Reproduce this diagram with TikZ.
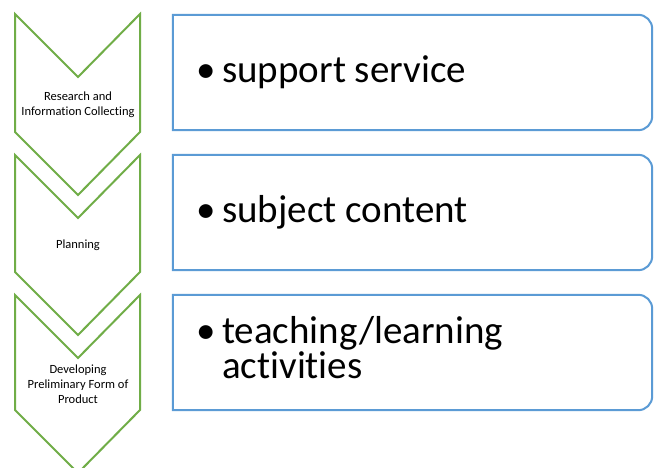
\documentclass[tikz,border=0pt]{standalone}
\usepackage{fontspec}
\setmainfont[Ligatures=NoCommon]{Carlito}
\definecolor{chevgreen}{RGB}{112,173,71}
\definecolor{boxblue}{RGB}{91,155,213}
\begin{document}
\begin{tikzpicture}[x=1pt,y=-1pt,
  chev/.style={draw=chevgreen, line width=2pt, line join=miter},
  boxline/.style={draw=boxblue, line width=2pt},
  boxshape/.style={draw=none, minimum width=479pt, minimum height=115pt, inner sep=0},
  steptext/.style={font=\fontsize{12.5}{15}\selectfont, align=center, inner sep=0},
  itemtext/.style={font=\fontsize{39}{35}\selectfont, align=left, inner sep=0, anchor=base west}]
\useasboundingbox (0,0) rectangle (654,468);
\fill[white] (0,0) rectangle (654,468);
% chevrons
\draw[chev] (15,14) -- (78,77) -- (140,14) -- (140,132) -- (78,195) -- (15,132) -- cycle;
\draw[chev] (15,155) -- (78,218) -- (140,155) -- (140,272) -- (78,335) -- (15,272) -- cycle;
\draw[chev] (15,295) -- (78,358) -- (140,295) -- (140,410) -- (78,473) -- (15,410) -- cycle;
\node[steptext] (s1) at (78,105) {Research and\\Information Collecting};
\node[steptext] (s2) at (78,245) {Planning};
\node[steptext] (s3) at (78,384) {Developing\\Preliminary Form of\\Product};
% boxes
\node[boxshape] (b1) at (412.5,72.5) {};
\node[boxshape] (b2) at (412.5,212.5) {};
\node[boxshape] (b3) at (412.5,352.5) {};
\foreach \b in {b1,b2,b3}{
  \draw[boxline] (\b.north) [rounded corners=14pt] -- (\b.north east) -- (\b.south east) -- (\b.south) [sharp corners] -- (\b.south west) -- (\b.north west) -- cycle;
}
\node[itemtext] (t1) at (196,83) {\makebox[26pt][l]{•}support service};
\node[itemtext] (t2) at (196,223) {\makebox[26pt][l]{•}subject content};
\node[itemtext] (t3) at (196,378) {\makebox[26pt][l]{•}teaching/learning\\\hspace*{26pt}activities};
\end{tikzpicture}
\end{document}
